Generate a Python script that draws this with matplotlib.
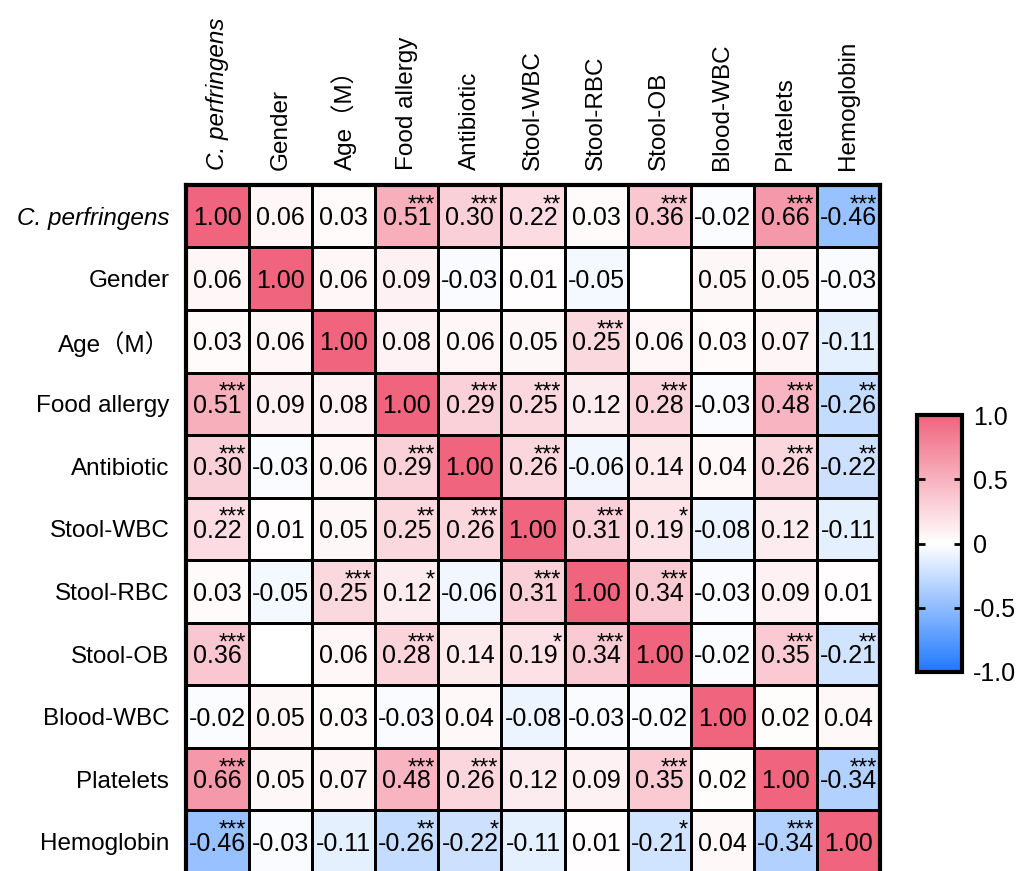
import numpy as np
import matplotlib.pyplot as plt
from matplotlib.colors import LinearSegmentedColormap

plt.rcParams['font.family'] = ['Liberation Sans', 'Noto Sans CJK SC', 'DejaVu Sans']

# variable names (row/column order)
labels = ['C. perfringens', 'Gender', 'Age（M）', 'Food allergy', 'Antibiotic',
          'Stool-WBC', 'Stool-RBC', 'Stool-OB', 'Blood-WBC', 'Platelets', 'Hemoglobin']

# correlation values (nan = blank cell)
nan = np.nan
r_cperf = [1.00, 0.06, 0.03, 0.51, 0.30, 0.22, 0.03, 0.36, -0.02, 0.66, -0.46]
r_gender = [0.06, 1.00, 0.06, 0.09, -0.03, 0.01, -0.05, nan, 0.05, 0.05, -0.03]
r_age = [0.03, 0.06, 1.00, 0.08, 0.06, 0.05, 0.25, 0.06, 0.03, 0.07, -0.11]
r_food = [0.51, 0.09, 0.08, 1.00, 0.29, 0.25, 0.12, 0.28, -0.03, 0.48, -0.26]
r_anti = [0.30, -0.03, 0.06, 0.29, 1.00, 0.26, -0.06, 0.14, 0.04, 0.26, -0.22]
r_swbc = [0.22, 0.01, 0.05, 0.25, 0.26, 1.00, 0.31, 0.19, -0.08, 0.12, -0.11]
r_srbc = [0.03, -0.05, 0.25, 0.12, -0.06, 0.31, 1.00, 0.34, -0.03, 0.09, 0.01]
r_sob = [0.36, nan, 0.06, 0.28, 0.14, 0.19, 0.34, 1.00, -0.02, 0.35, -0.21]
r_bwbc = [-0.02, 0.05, 0.03, -0.03, 0.04, -0.08, -0.03, -0.02, 1.00, 0.02, 0.04]
r_plt = [0.66, 0.05, 0.07, 0.48, 0.26, 0.12, 0.09, 0.35, 0.02, 1.00, -0.34]
r_hb = [-0.46, -0.03, -0.11, -0.26, -0.22, -0.11, 0.01, -0.21, 0.04, -0.34, 1.00]

# significance stars per cell
s_cperf = ['', '', '', '***', '***', '**', '', '***', '', '***', '***']
s_gender = [''] * 11
s_age = ['', '', '', '', '', '', '***', '', '', '', '']
s_food = ['***', '', '', '', '***', '***', '', '***', '', '***', '**']
s_anti = ['***', '', '', '***', '', '***', '', '', '', '***', '**']
s_swbc = ['***', '', '', '**', '***', '', '***', '*', '', '', '']
s_srbc = ['', '', '***', '*', '', '***', '', '***', '', '', '']
s_sob = ['***', '', '', '***', '', '*', '***', '', '', '***', '**']
s_bwbc = [''] * 11
s_plt = ['***', '', '', '***', '***', '', '', '***', '', '', '***']
s_hb = ['***', '', '', '**', '*', '', '', '*', '', '***', '']

corr = np.array([r_cperf, r_gender, r_age, r_food, r_anti, r_swbc,
                 r_srbc, r_sob, r_bwbc, r_plt, r_hb])
stars = [s_cperf, s_gender, s_age, s_food, s_anti, s_swbc,
         s_srbc, s_sob, s_bwbc, s_plt, s_hb]
n = len(labels)

cmap = LinearSegmentedColormap.from_list(
    'bwr_gp', [(0.0, '#1E78FF'), (0.5, '#FFFFFF'), (1.0, '#F0647D')])
cmap.set_bad('white')

fig = plt.figure(figsize=(10.25, 8.71), dpi=100)
ax = fig.add_axes([0.1815, -0.0023, 0.677, 0.790])
mesh = ax.pcolormesh(np.ma.masked_invalid(corr), cmap=cmap, vmin=-1, vmax=1,
                     edgecolors='black', linewidth=1.8)
ax.set_xlim(0, n)
ax.set_ylim(n, 0)

for i in range(n):
    for j in range(n):
        v = corr[i, j]
        if np.isnan(v):
            continue
        ax.text(j + 0.5, i + 0.645, f'{v:.2f}', ha='center', va='baseline',
                fontsize=18, color='black')
        if stars[i][j]:
            ax.text(j + 0.95, i + 0.42, stars[i][j], ha='right', va='baseline',
                    fontsize=17, color='black')

ax.xaxis.tick_top()
ax.set_xticks(np.arange(n) + 0.5)
ax.set_yticks(np.arange(n) + 0.5)
ax.set_xticklabels(labels, rotation=90, fontsize=17.5)
ax.set_yticklabels(labels, fontsize=17.5)
ax.get_xticklabels()[0].set_style('italic')
ax.get_yticklabels()[0].set_style('italic')
ax.tick_params(axis='both', length=0)
ax.tick_params(axis='x', pad=11)
ax.tick_params(axis='y', pad=12)
for sp in ax.spines.values():
    sp.set_linewidth(3)

cax = fig.add_axes([0.8946, 0.2285, 0.0439, 0.295])
cb = fig.colorbar(mesh, cax=cax, ticks=[-1, -0.5, 0, 0.5, 1])
cb.ax.set_yticklabels(['-1.0', '-0.5', '0', '0.5', '1.0'])
cb.outline.set_linewidth(3)
cb.ax.tick_params(axis='y', which='both', direction='in', left=True, right=True,
                  length=6, width=2, labelsize=18, pad=8)

fig.savefig('out.png', dpi=100)
